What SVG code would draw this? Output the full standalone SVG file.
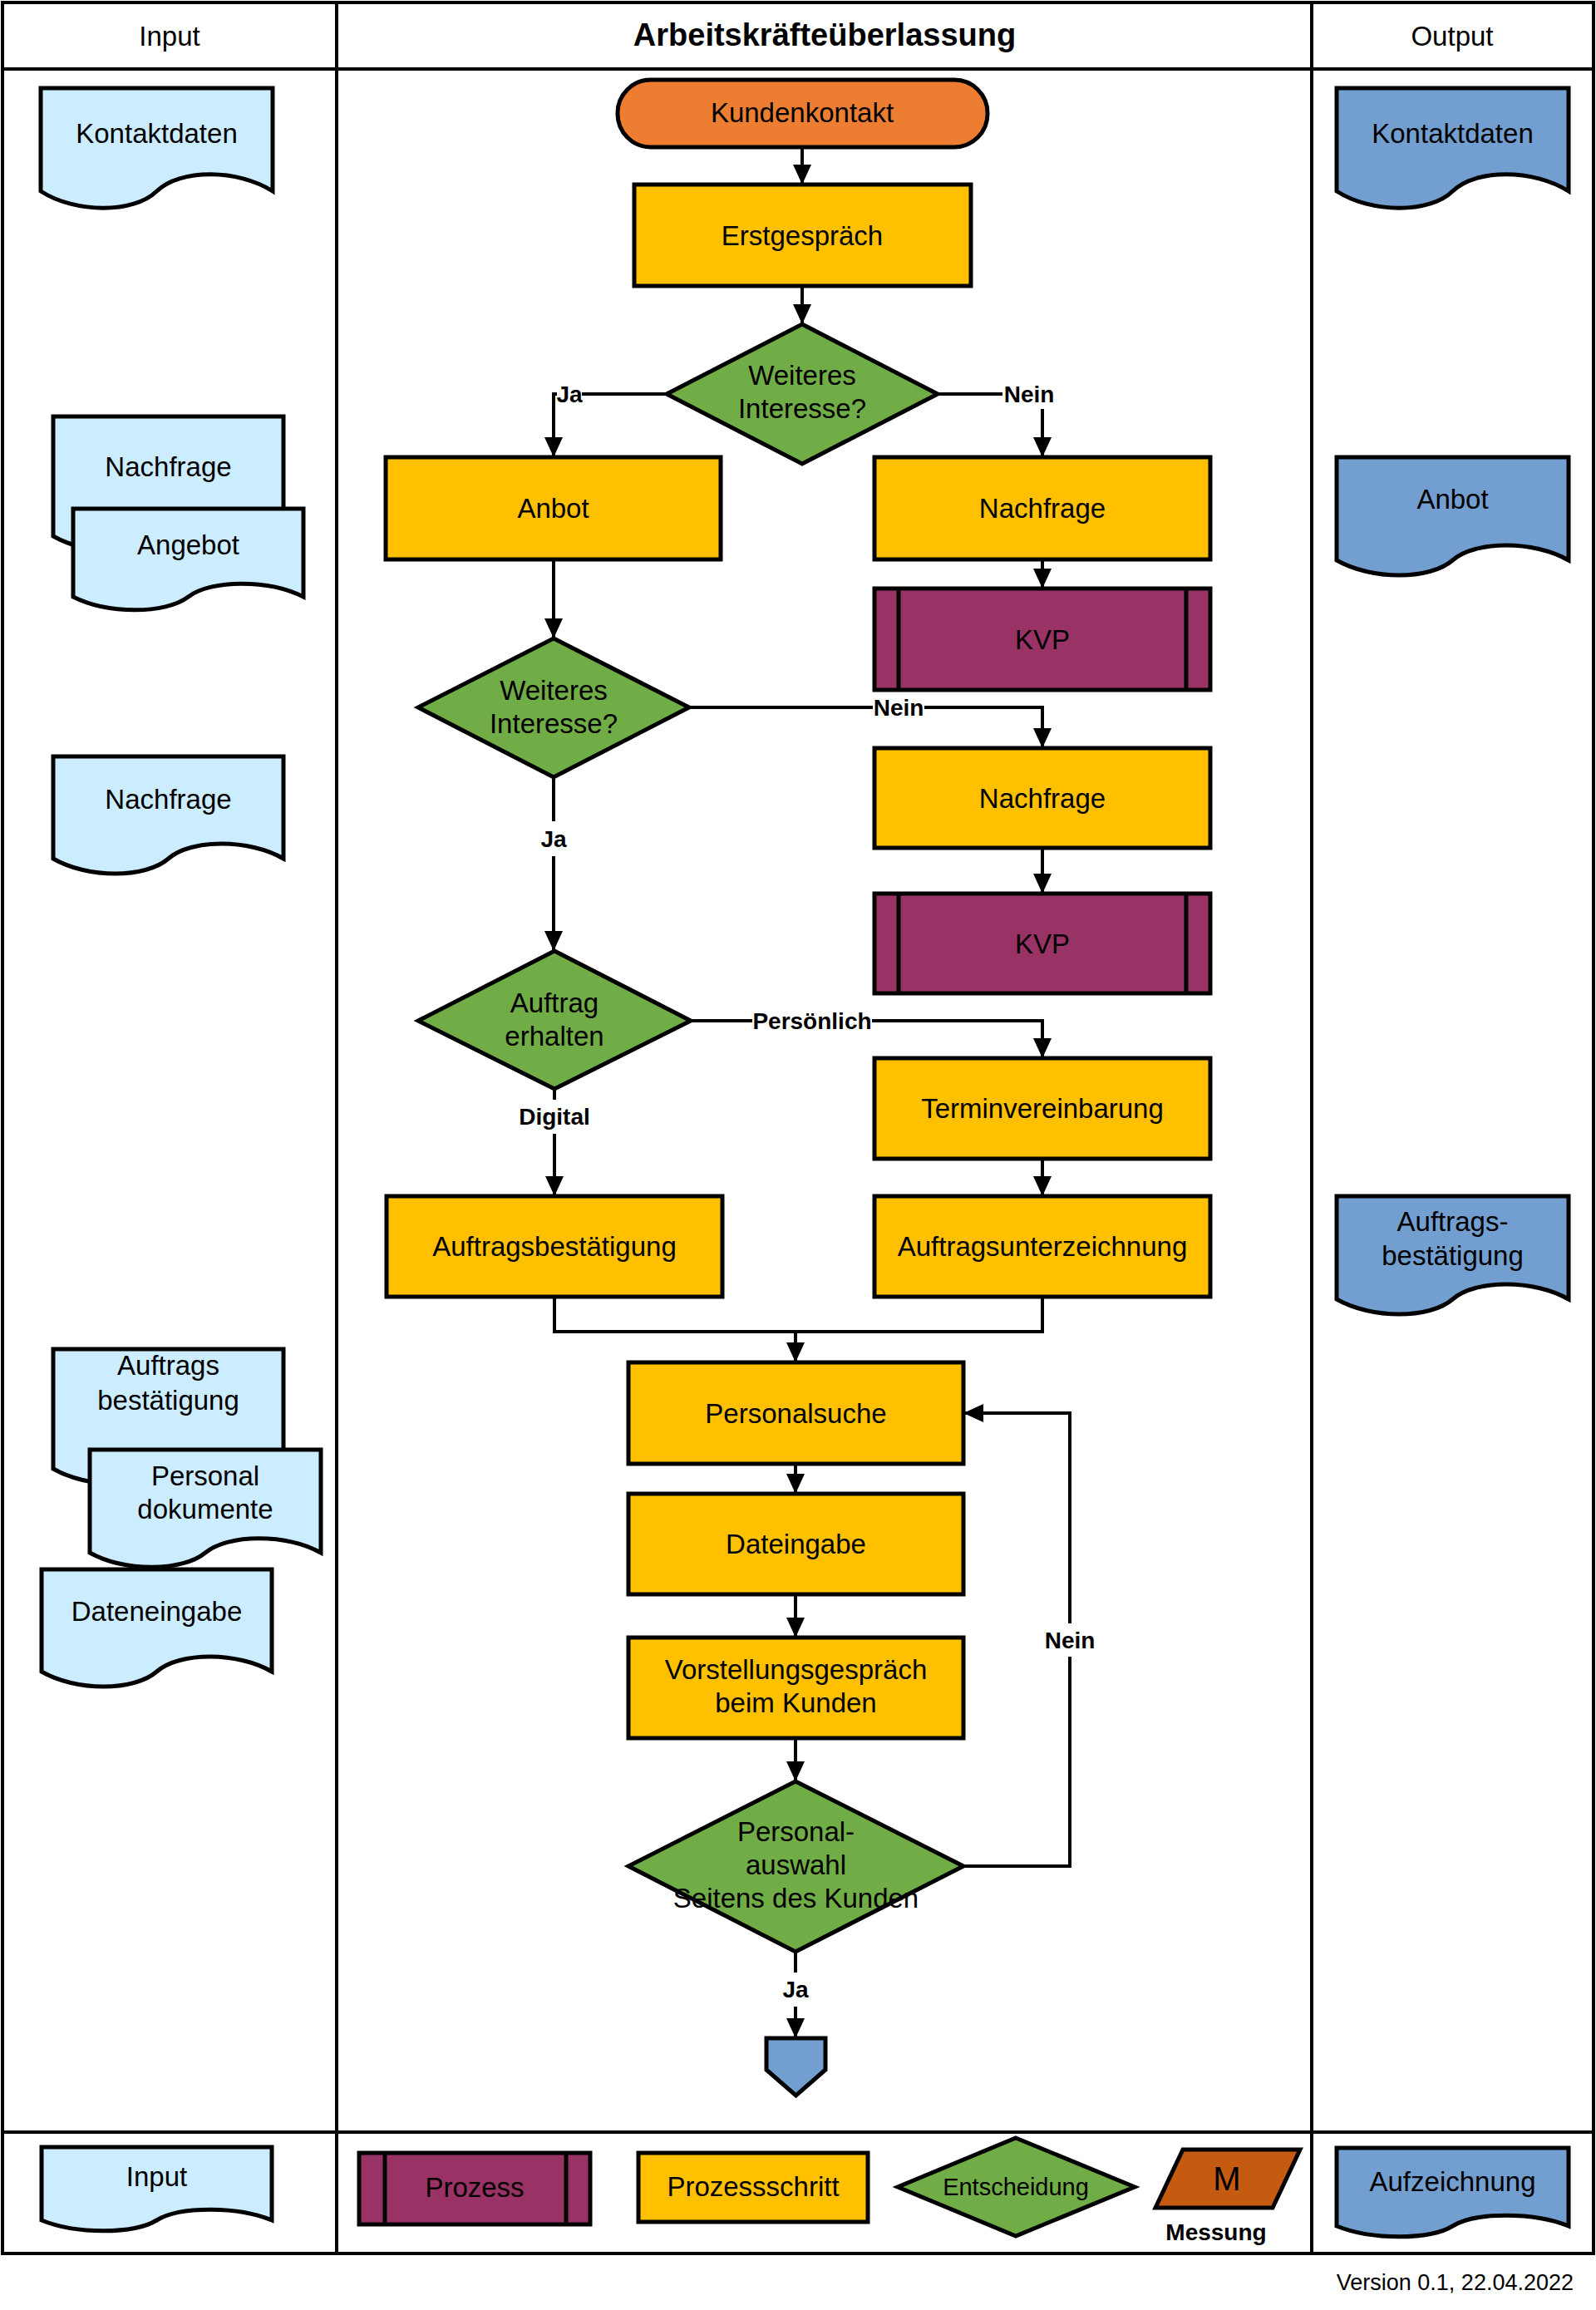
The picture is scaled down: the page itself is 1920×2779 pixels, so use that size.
<svg xmlns="http://www.w3.org/2000/svg" width="1920" height="2779" viewBox="0 0 1920 2779">
<style>
.bx{stroke:#000;stroke-width:5;stroke-linejoin:miter}
.yel{fill:#FFC000}.grn{fill:#70AD47}.pur{fill:#993366}.org{fill:#ED7D31}.lb{fill:#CCECFF}.db{fill:#729FCF}.mo{fill:#C55A11}
.t{font-family:"Liberation Sans",Arial,sans-serif;font-size:33px;text-anchor:middle;fill:#000}
.lbl{font-weight:bold;font-size:28px}
.ttl{font-weight:bold;font-size:38px}
.conn{fill:none;stroke:#000;stroke-width:4}
.arr{marker-end:url(#ah)}
.lane{fill:none;stroke:#000;stroke-width:4}
.bg{fill:#fff}
</style>
<defs>
<marker id="ah" markerUnits="userSpaceOnUse" markerWidth="24" markerHeight="22" refX="24" refY="11" orient="auto">
<path d="M0,0 L24,11 L0,22 Z" fill="#000"/>
</marker>
</defs>
<rect x="0" y="0" width="1920" height="2779" fill="#fff"/>
<g id="lanes">
<rect class="lane" x="3" y="3" width="1914" height="2708" stroke-width="5"/>
<line class="lane" x1="3" y1="83" x2="1917" y2="83" stroke-width="5"/>
<line class="lane" x1="405" y1="3" x2="405" y2="2711"/>
<line class="lane" x1="1578" y1="3" x2="1578" y2="2711"/>
<line class="lane" x1="3" y1="2565" x2="1917" y2="2565"/>
<text class="t" x="204" y="55">Input</text>
<text class="t ttl" x="992" y="55">Arbeitskräfteüberlassung</text>
<text class="t" x="1747" y="55">Output</text>
</g>
<g id="connectors">
<path class="conn arr" d="M965,177 V222"/>
<path class="conn arr" d="M965,344 V390"/>
<path class="conn arr" d="M802,474 H666 V550"/>
<path class="conn arr" d="M1128,474 H1254 V550"/>
<path class="conn arr" d="M1254,673 V708"/>
<path class="conn arr" d="M666,673 V768"/>
<path class="conn arr" d="M829,851 H1254 V900"/>
<path class="conn arr" d="M1254,1020 V1075"/>
<path class="conn arr" d="M666,935 V1144"/>
<path class="conn arr" d="M831,1228 H1254 V1273"/>
<path class="conn arr" d="M1254,1394 V1439"/>
<path class="conn arr" d="M667,1310 V1439"/>
<path class="conn" d="M667,1560 V1602 H1254 V1560"/>
<path class="conn arr" d="M957,1602 V1639"/>
<path class="conn arr" d="M957,1761 V1797"/>
<path class="conn arr" d="M957,1918 V1970"/>
<path class="conn arr" d="M957,2091 V2143"/>
<path class="conn arr" d="M1159,2245 H1287 V1700 H1159"/>
<path class="conn arr" d="M957,2348 V2452"/>
<rect class="bg" x="670" y="458" width="30" height="32"/>
<text class="t lbl" x="685" y="484">Ja</text>
<rect class="bg" x="1206" y="458" width="64" height="34"/>
<text class="t lbl" x="1238" y="484">Nein</text>
<rect class="bg" x="1050" y="836" width="62" height="30"/>
<text class="t lbl" x="1081" y="861">Nein</text>
<rect class="bg" x="648" y="988" width="36" height="42"/>
<text class="t lbl" x="666" y="1019">Ja</text>
<rect class="bg" x="905" y="1213" width="144" height="30"/>
<text class="t lbl" x="977" y="1238">Persönlich</text>
<rect class="bg" x="623" y="1323" width="88" height="41"/>
<text class="t lbl" x="667" y="1353">Digital</text>
<rect class="bg" x="1255" y="1953" width="64" height="40"/>
<text class="t lbl" x="1287" y="1983">Nein</text>
<rect class="bg" x="940" y="2373" width="34" height="41"/>
<text class="t lbl" x="957" y="2403">Ja</text>
</g>
<g id="n-kundenkontakt">
<rect class="bx org" x="743" y="96" width="445" height="81" rx="40"/>
<text class="t" x="965" y="147">Kundenkontakt</text>
</g>
<g id="n-erstgespraech">
<rect class="bx yel" x="763" y="222" width="405" height="122"/>
<text class="t" x="965" y="295">Erstgespräch</text>
</g>
<g id="n-d1">
<polygon class="bx grn" points="965,390 1128,474 965,558 802,474"/>
<text class="t" x="965" y="463">Weiteres</text>
<text class="t" x="965" y="503">Interesse?</text>
</g>
<g id="n-anbot">
<rect class="bx yel" x="464" y="550" width="403" height="123"/>
<text class="t" x="665.5" y="623">Anbot</text>
</g>
<g id="n-nachfrage1">
<rect class="bx yel" x="1052" y="550" width="404" height="123"/>
<text class="t" x="1254" y="623">Nachfrage</text>
</g>
<g id="n-kvp1">
<rect class="bx pur" x="1052" y="708" width="404" height="122"/>
<line class="bx" x1="1081" y1="708" x2="1081" y2="830"/>
<line class="bx" x1="1427" y1="708" x2="1427" y2="830"/>
<text class="t" x="1254" y="781">KVP</text>
</g>
<g id="n-d2">
<polygon class="bx grn" points="666,768 829,851 666,935 503,851"/>
<text class="t" x="666" y="842">Weiteres</text>
<text class="t" x="666" y="882">Interesse?</text>
</g>
<g id="n-nachfrage2">
<rect class="bx yel" x="1052" y="900" width="404" height="120"/>
<text class="t" x="1254" y="972">Nachfrage</text>
</g>
<g id="n-kvp2">
<rect class="bx pur" x="1052" y="1075" width="404" height="120"/>
<line class="bx" x1="1081" y1="1075" x2="1081" y2="1195"/>
<line class="bx" x1="1427" y1="1075" x2="1427" y2="1195"/>
<text class="t" x="1254" y="1147">KVP</text>
</g>
<g id="n-d3">
<polygon class="bx grn" points="667,1144 831,1228 667,1310 503,1228"/>
<text class="t" x="667" y="1218">Auftrag</text>
<text class="t" x="667" y="1258">erhalten</text>
</g>
<g id="n-termin">
<rect class="bx yel" x="1052" y="1273" width="404" height="121"/>
<text class="t" x="1254" y="1345">Terminvereinbarung</text>
</g>
<g id="n-auftragsbestaetigung">
<rect class="bx yel" x="465" y="1439" width="404" height="121"/>
<text class="t" x="667" y="1511">Auftragsbestätigung</text>
</g>
<g id="n-auftragsunterzeichnung">
<rect class="bx yel" x="1052" y="1439" width="404" height="121"/>
<text class="t" x="1254" y="1511">Auftragsunterzeichnung</text>
</g>
<g id="n-personalsuche">
<rect class="bx yel" x="756" y="1639" width="403" height="122"/>
<text class="t" x="957.5" y="1712">Personalsuche</text>
</g>
<g id="n-dateingabe">
<rect class="bx yel" x="756" y="1797" width="403" height="121"/>
<text class="t" x="957.5" y="1869">Dateingabe</text>
</g>
<g id="n-vorstellung">
<rect class="bx yel" x="756" y="1970" width="403" height="121"/>
<text class="t" x="957.5" y="2020">Vorstellungsgespräch</text>
<text class="t" x="957.5" y="2060">beim Kunden</text>
</g>
<g id="n-d4">
<polygon class="bx grn" points="957,2143 1159,2245 957,2348 756,2245"/>
<text class="t" x="957.5" y="2215">Personal-</text>
<text class="t" x="957.5" y="2255">auswahl</text>
<text class="t" x="957.5" y="2295">Seitens des Kunden</text>
</g>
<g id="n-end">
<path class="bx db" d="M922,2452 H993 V2490 L957.5,2521 L922,2490 Z"/>
</g>
<g id="in-kontaktdaten">
<path class="bx lb" d="M49,106 H328 V230 C286,203 216,203 188.5,230 C161,257 91,257 49,230 Z"/>
<text class="t" x="188.5" y="172">Kontaktdaten</text>
</g>
<g id="in-nachfrage-angebot">
<path class="bx lb" d="M64,501 H341 V645 C299.5,621 230,621 202.5,645 C175,669 105.5,669 64,645 Z"/>
<text class="t" x="202.5" y="573">Nachfrage</text>
<path class="bx lb" d="M88,612 H365 V718 C323.5,697 254,697 226.5,718 C199,739 129.5,739 88,718 Z"/>
<text class="t" x="226.5" y="667">Angebot</text>
</g>
<g id="in-nachfrage">
<path class="bx lb" d="M64,910 H341 V1033 C299.5,1009 230,1009 202.5,1033 C175,1057 105.5,1057 64,1033 Z"/>
<text class="t" x="202.5" y="973">Nachfrage</text>
</g>
<g id="in-auftrags-personal">
<path class="bx lb" d="M64,1623 H341 V1767 C299.5,1743 230,1743 202.5,1767 C175,1791 105.5,1791 64,1767 Z"/>
<text class="t" x="202.5" y="1654">Auftrags</text>
<text class="t" x="202.5" y="1696">bestätigung</text>
<path class="bx lb" d="M108,1744 H386 V1868 C344,1845 275,1845 247,1868 C219,1891 150,1891 108,1868 Z"/>
<text class="t" x="247" y="1787">Personal</text>
<text class="t" x="247" y="1827">dokumente</text>
</g>
<g id="in-dateneingabe">
<path class="bx lb" d="M50,1888 H327 V2011 C285.5,1987 216,1987 188.5,2011 C161,2035 91.5,2035 50,2011 Z"/>
<text class="t" x="188.5" y="1950">Dateneingabe</text>
</g>
<g id="out-kontaktdaten">
<path class="bx db" d="M1608,106 H1887 V230 C1845,203 1775,203 1747.5,230 C1720,257 1650,257 1608,230 Z"/>
<text class="t" x="1747.5" y="172">Kontaktdaten</text>
</g>
<g id="out-anbot">
<path class="bx db" d="M1608,550 H1887 V674 C1845,650 1775,650 1747.5,674 C1720,698 1650,698 1608,674 Z"/>
<text class="t" x="1747.5" y="612">Anbot</text>
</g>
<g id="out-auftragsbestaetigung">
<path class="bx db" d="M1608,1439 H1887 V1563 C1845,1539 1775,1539 1747.5,1563 C1720,1587 1650,1587 1608,1563 Z"/>
<text class="t" x="1747.5" y="1481">Auftrags-</text>
<text class="t" x="1747.5" y="1522">bestätigung</text>
</g>
<g id="legend">
<path class="bx lb" d="M50,2583 H327 V2671 C285.5,2654 216,2654 188.5,2671 C161,2688 91.5,2688 50,2671 Z"/>
<text class="t" x="188.5" y="2630">Input</text>
<rect class="bx pur" x="432" y="2590" width="278" height="86"/>
<line class="bx" x1="463" y1="2590" x2="463" y2="2676"/>
<line class="bx" x1="681" y1="2590" x2="681" y2="2676"/>
<text class="t" x="571" y="2643">Prozess</text>
<rect class="bx yel" x="768" y="2590" width="276" height="83"/>
<text class="t" x="906" y="2642">Prozessschritt</text>
<polygon class="bx grn" points="1222,2572 1365,2631 1222,2690 1080,2631"/>
<text class="t" x="1222" y="2641" style="font-size:29px">Entscheidung</text>
<polygon class="bx mo" points="1423,2586 1564,2586 1531,2656 1390,2656"/>
<text class="t" x="1476" y="2635" style="font-size:40px">M</text>
<text class="t lbl" x="1463" y="2695">Messung</text>
<path class="bx db" d="M1608,2584 H1887 V2678 C1845,2661 1775,2661 1747.5,2678 C1720,2695 1650,2695 1608,2678 Z"/>
<text class="t" x="1747.5" y="2636">Aufzeichnung</text>
</g>
<text class="t" x="1893" y="2755" style="font-size:27px;text-anchor:end">Version 0.1, 22.04.2022</text>
</svg>
